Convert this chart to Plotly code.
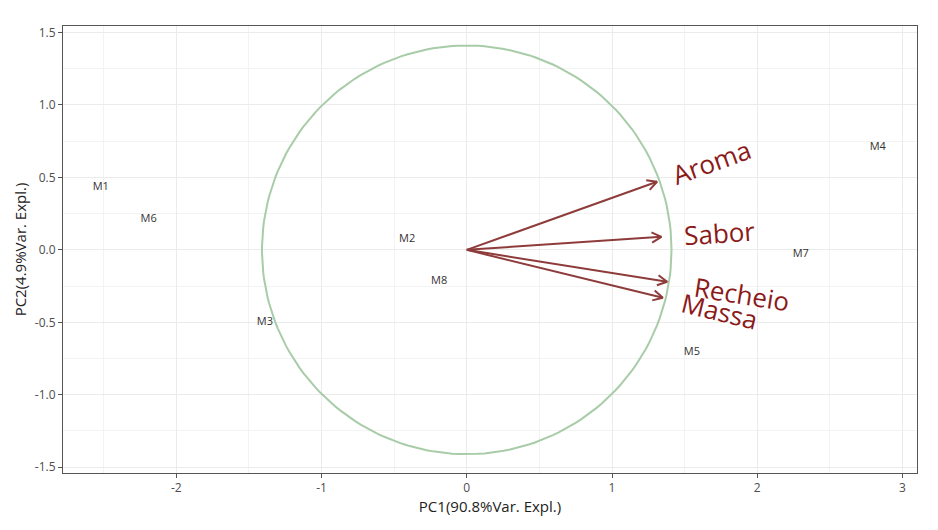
import numpy as np
import plotly.graph_objects as go

# sample scores (PC1, PC2)
samples = ['M1', 'M2', 'M3', 'M4', 'M5', 'M6', 'M7', 'M8']
pc1 = [-2.52, -0.41, -1.39, 2.83, 1.55, -2.19, 2.30, -0.19]
pc2 = [0.43, 0.07, -0.50, 0.71, -0.71, 0.21, -0.03, -0.22]

# variable loadings (arrow tips)
variables = ['Aroma', 'Sabor', 'Recheio', 'Massa']
load1 = [1.31, 1.34, 1.38, 1.35]
load2 = [0.47, 0.09, -0.22, -0.33]

circle_r = 1.41

x_ticks = [-2, -1, 0, 1, 2, 3]
y_ticks = [-1.5, -1.0, -0.5, 0.0, 0.5, 1.0, 1.5]

arrow_col = '#8E3B3B'
label_col = '#8B1A1A'

fig = go.Figure()

# correlation circle
t = np.linspace(0, 2 * np.pi, 200)
fig.add_trace(go.Scatter(
    x=circle_r * np.cos(t), y=circle_r * np.sin(t),
    mode='lines', line=dict(color='#A8CCA8', width=2),
    hoverinfo='skip', showlegend=False))

# arrows with open heads
head_len = 0.075
head_ang = np.radians(28)
for vx, vy in zip(load1, load2):
    ang = np.arctan2(vy, vx)
    hx = [vx - head_len * np.cos(ang - head_ang), vx, vx - head_len * np.cos(ang + head_ang)]
    hy = [vy - head_len * np.sin(ang - head_ang), vy, vy - head_len * np.sin(ang + head_ang)]
    fig.add_trace(go.Scatter(x=[0, vx], y=[0, vy], mode='lines',
                             line=dict(color=arrow_col, width=2),
                             hoverinfo='skip', showlegend=False))
    fig.add_trace(go.Scatter(x=hx, y=hy, mode='lines',
                             line=dict(color=arrow_col, width=2),
                             hoverinfo='skip', showlegend=False))

# sample labels
fig.add_trace(go.Scatter(
    x=pc1, y=pc2, mode='text', text=samples,
    textfont=dict(size=11, color='#333333', family='Open Sans'),
    showlegend=False))

# variable labels, rotated along the arrow, starting just past the tip
for name, vx, vy in zip(variables, load1, load2):
    ang = np.degrees(np.arctan2(vy, vx))
    r = np.hypot(vx, vy)
    s = (r + 0.10 + 0.06 * len(name)) / r
    fig.add_annotation(x=vx * s, y=vy * s, text=name, showarrow=False,
                       textangle=-ang,
                       font=dict(size=26, color=label_col, family='Open Sans'))

axis_common = dict(
    showgrid=True, gridcolor='#EBEBEB', gridwidth=1,
    zeroline=False, showline=True, linecolor='#555555', linewidth=1, mirror=True,
    ticks='outside', ticklen=4, tickcolor='#555555',
    tickfont=dict(size=12, color='#4D4D4D', family='Open Sans'),
)

fig.update_layout(
    width=930, height=522,
    plot_bgcolor='white', paper_bgcolor='white',
    margin=dict(l=53, r=21, t=18, b=57),
    xaxis=dict(axis_common, range=[-2.78, 3.10], tickvals=x_ticks,
               ticktext=[str(v) for v in x_ticks],
               minor=dict(dtick=0.5, showgrid=True, gridcolor='#F3F3F3', ticks=''),
               title=dict(text='PC1(90.8%Var. Expl.)', standoff=4,
                          font=dict(size=15, color='#222222', family='Open Sans'))),
    yaxis=dict(axis_common, range=[-1.54, 1.545], tickvals=y_ticks,
               ticktext=['%.1f' % v for v in y_ticks],
               minor=dict(dtick=0.25, showgrid=True, gridcolor='#F3F3F3', ticks=''),
               title=dict(text='PC2(4.9%Var. Expl.)', standoff=4,
                          font=dict(size=15, color='#222222', family='Open Sans'))),
)

fig.write_html('out.html')
